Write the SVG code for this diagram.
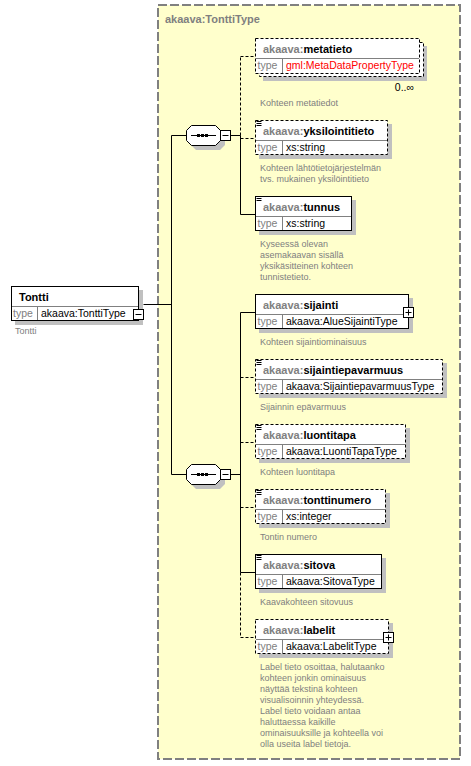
<svg xmlns="http://www.w3.org/2000/svg" width="471" height="766" viewBox="0 0 471 766">
<style>
.bg{fill:#FFFFCC;stroke:#808080;stroke-width:2;stroke-dasharray:9,3}
.title{font:bold 11px "Liberation Sans",Arial,sans-serif;fill:#808080}
.box{fill:#fff;stroke:#000;stroke-width:1}
.opt{stroke-dasharray:3,2}
.sh{fill:#C0C0C0}
.div{stroke:#808080;stroke-width:1;fill:none}
.hdr{font:bold 11px "Liberation Sans",Arial,sans-serif;fill:#000}
.ns{fill:#808080}
.tl{font:10.5px "Liberation Sans",Arial,sans-serif;fill:#808080}
.tv{font:10.5px "Liberation Sans",Arial,sans-serif;fill:#000}
.red{fill:#FF0000}
.desc{font:9px "Liberation Sans",Arial,sans-serif;fill:#808080}
.occ{font:10.5px "Liberation Sans",Arial,sans-serif;fill:#000}
.ln{stroke:#000;stroke-width:1;fill:none}
.dl{stroke:#000;stroke-width:1;fill:none;stroke-dasharray:3,2}
.btn{fill:#fff;stroke:#000;stroke-width:1}
</style>
<defs>
<g id="icon"><path d="M256.5,121.5h5M256.5,123.5h5M256.5,125.5h5" stroke="#000" stroke-width="1"/></g>
</defs>
<g id="complexType">
<rect class="bg" x="158" y="5" width="302" height="754"/>
<text class="title" x="165" y="23">akaava:TonttiType</text>
</g>
<g id="connectors">
<path class="ln" d="M143.5,304.5H171.5M171.5,135.5V474.5M171.5,135.5H186M171.5,474.5H186"/>
<path class="ln" d="M231,135.5H240.5M240.5,135.5V214.5M240.5,214.5H255"/>
<path class="dl" d="M240.5,135.5V56.5M240.5,56.5H255M240.5,138.5H255"/>
<path class="ln" d="M231,474.5H240.5M240.5,312.5V572.5M240.5,312.5H255M240.5,572.5H255"/>
<path class="dl" d="M240.5,572.5V637.5M240.5,637.5H255M240.5,377.5H255M240.5,442.5H255M240.5,507.5H255"/>
</g>
<g id="Tontti">
<rect class="sh" x="15" y="290" width="128" height="35"/>
<rect class="box" x="11.5" y="286.5" width="127" height="34"/>
<path class="div" d="M12,306.5H138M37.5,307V320"/>
<text class="hdr" x="19" y="300.5">Tontti</text>
<text class="tl" x="13" y="317">type</text>
<text class="tv" x="41" y="317">akaava:TonttiType</text>
<text class="desc" x="15" y="334">Tontti</text>
<rect class="btn" x="133.5" y="309.5" width="10" height="10"/>
<path class="ln" d="M135.5,314.5H141.5"/>
</g>
<g id="sequence1">
<path class="sh" d="M196,130H220L225,135V145L220,150H196L191,145V135Z"/>
<path class="box" d="M191.5,125.5H215.5L220.5,130.5V140.5L215.5,145.5H191.5L186.5,140.5V130.5Z"/>
<path class="ln" d="M191,135.5H216"/>
<rect x="197" y="134" width="3" height="3"/><rect x="201" y="134" width="3" height="3"/><rect x="205" y="134" width="3" height="3"/>
<rect class="btn" x="220.5" y="130.5" width="10" height="10"/>
<path class="ln" d="M222.5,135.5H228.5"/>
</g>
<g id="metatieto">
<rect class="sh" x="263" y="46" width="164" height="35"/>
<rect class="box opt" x="259.5" y="42.5" width="164" height="34"/>
<rect class="box opt" x="255.5" y="38.5" width="164" height="35"/>
<path class="div" d="M256,58.5H419M282.5,59V73"/>
<text class="hdr" x="263" y="53"><tspan class="ns">akaava:</tspan>metatieto</text>
<text class="tl" x="257.5" y="69">type</text>
<text class="tv red" x="286" y="69">gml:MetaDataPropertyType</text>
<text class="occ" x="414" y="91" text-anchor="end">0..∞</text>
<text class="desc" x="260" y="105.5">Kohteen metatiedot</text>
</g>
<g id="yksilointitieto">
<rect class="sh" x="259" y="124" width="133" height="35"/>
<rect class="box opt" x="255.5" y="120.5" width="132" height="34"/>
<path class="div" d="M256,140.5H387M282.5,141V154"/>
<use href="#icon"/>
<text class="hdr" x="263" y="135"><tspan class="ns">akaava:</tspan>yksilointitieto</text>
<text class="tl" x="257.5" y="151">type</text>
<text class="tv" x="286" y="151">xs:string</text>
<text class="desc" x="260" y="170.5">Kohteen lähtötietojärjestelmän</text>
<text class="desc" x="260" y="181.5"> tvs. mukainen yksilöintitieto</text>
</g>
<g id="tunnus">
<rect class="sh" x="259" y="200" width="97" height="35"/>
<rect class="box" x="255.5" y="196.5" width="96" height="34"/>
<path class="div" d="M256,216.5H351M282.5,217V230"/>
<use href="#icon" transform="translate(0,75)"/>
<text class="hdr" x="263" y="211"><tspan class="ns">akaava:</tspan>tunnus</text>
<text class="tl" x="257.5" y="227">type</text>
<text class="tv" x="286" y="227">xs:string</text>
<text class="desc" x="260" y="246.5">Kyseessä olevan</text>
<text class="desc" x="260" y="257.5">asemakaavan sisällä</text>
<text class="desc" x="260" y="268.5">yksikäsitteinen kohteen</text>
<text class="desc" x="260" y="279.5">tunnistetieto.</text>
</g>
<g id="sequence2">
<path class="sh" d="M196,469H220L225,474V484L220,489H196L191,484V474Z"/>
<path class="box" d="M191.5,464.5H215.5L220.5,469.5V479.5L215.5,484.5H191.5L186.5,479.5V469.5Z"/>
<path class="ln" d="M191,474.5H216"/>
<rect x="197" y="473" width="3" height="3"/><rect x="201" y="473" width="3" height="3"/><rect x="205" y="473" width="3" height="3"/>
<rect class="btn" x="220.5" y="469.5" width="10" height="10"/>
<path class="ln" d="M222.5,474.5H228.5"/>
</g>
<g id="sijainti">
<rect class="sh" x="259" y="298" width="154" height="35"/>
<rect class="box" x="255.5" y="294.5" width="153" height="34"/>
<path class="div" d="M256,314.5H408M282.5,315V328"/>
<text class="hdr" x="263" y="309"><tspan class="ns">akaava:</tspan>sijainti</text>
<text class="tl" x="257.5" y="325">type</text>
<text class="tv" x="286" y="325">akaava:AlueSijaintiType</text>
<text class="desc" x="260" y="344.5">Kohteen sijaintiominaisuus</text>
<rect class="btn" x="403.5" y="307.5" width="10" height="10"/>
<path class="ln" d="M405.5,312.5H411.5M408.5,309.5V315.5"/>
</g>
<g id="sijaintiepavarmuus">
<rect class="sh" x="259" y="363" width="188" height="35"/>
<rect class="box opt" x="255.5" y="359.5" width="187" height="34"/>
<path class="div" d="M256,379.5H442M282.5,380V393"/>
<use href="#icon" transform="translate(0,239)"/>
<text class="hdr" x="263" y="374"><tspan class="ns">akaava:</tspan>sijaintiepavarmuus</text>
<text class="tl" x="257.5" y="390">type</text>
<text class="tv" x="286" y="390">akaava:SijaintiepavarmuusType</text>
<text class="desc" x="260" y="409.5">Sijainnin epävarmuus</text>
</g>
<g id="luontitapa">
<rect class="sh" x="259" y="428" width="151" height="35"/>
<rect class="box opt" x="255.5" y="424.5" width="150" height="34"/>
<path class="div" d="M256,444.5H405M282.5,445V458"/>
<use href="#icon" transform="translate(0,304)"/>
<text class="hdr" x="263" y="439"><tspan class="ns">akaava:</tspan>luontitapa</text>
<text class="tl" x="257.5" y="455">type</text>
<text class="tv" x="286" y="455">akaava:LuontiTapaType</text>
<text class="desc" x="260" y="474.5">Kohteen luontitapa</text>
</g>
<g id="tonttinumero">
<rect class="sh" x="259" y="493" width="131" height="35"/>
<rect class="box opt" x="255.5" y="489.5" width="130" height="34"/>
<path class="div" d="M256,509.5H385M282.5,510V523"/>
<use href="#icon" transform="translate(0,369)"/>
<text class="hdr" x="263" y="504"><tspan class="ns">akaava:</tspan>tonttinumero</text>
<text class="tl" x="257.5" y="520">type</text>
<text class="tv" x="286" y="520">xs:integer</text>
<text class="desc" x="260" y="539.5">Tontin numero</text>
</g>
<g id="sitova">
<rect class="sh" x="259" y="558" width="127" height="35"/>
<rect class="box" x="255.5" y="554.5" width="126" height="34"/>
<path class="div" d="M256,574.5H381M282.5,575V588"/>
<use href="#icon" transform="translate(0,434)"/>
<text class="hdr" x="263" y="569"><tspan class="ns">akaava:</tspan>sitova</text>
<text class="tl" x="257.5" y="585">type</text>
<text class="tv" x="286" y="585">akaava:SitovaType</text>
<text class="desc" x="260" y="604.5">Kaavakohteen sitovuus</text>
</g>
<g id="labelit">
<rect class="sh" x="259" y="623" width="134" height="35"/>
<rect class="box opt" x="255.5" y="619.5" width="133" height="34"/>
<path class="div" d="M256,639.5H388M282.5,640V653"/>
<text class="hdr" x="263" y="634"><tspan class="ns">akaava:</tspan>labelit</text>
<text class="tl" x="257.5" y="650">type</text>
<text class="tv" x="286" y="650">akaava:LabelitType</text>
<rect class="btn" x="383.5" y="632.5" width="10" height="10"/>
<path class="ln" d="M385.5,637.5H391.5M388.5,634.5V640.5"/>
<text class="desc" x="260" y="669.5">Label tieto osoittaa, halutaanko</text>
<text class="desc" x="260" y="680.5">kohteen jonkin ominaisuus</text>
<text class="desc" x="260" y="691.5">näyttää tekstinä kohteen</text>
<text class="desc" x="260" y="702.5">visualisoinnin yhteydessä.</text>
<text class="desc" x="260" y="713.5">Label tieto voidaan antaa</text>
<text class="desc" x="260" y="724.5">haluttaessa kaikille</text>
<text class="desc" x="260" y="735.5">ominaisuuksille ja kohteella voi</text>
<text class="desc" x="260" y="746.5">olla useita label tietoja.</text>
</g>
</svg>
